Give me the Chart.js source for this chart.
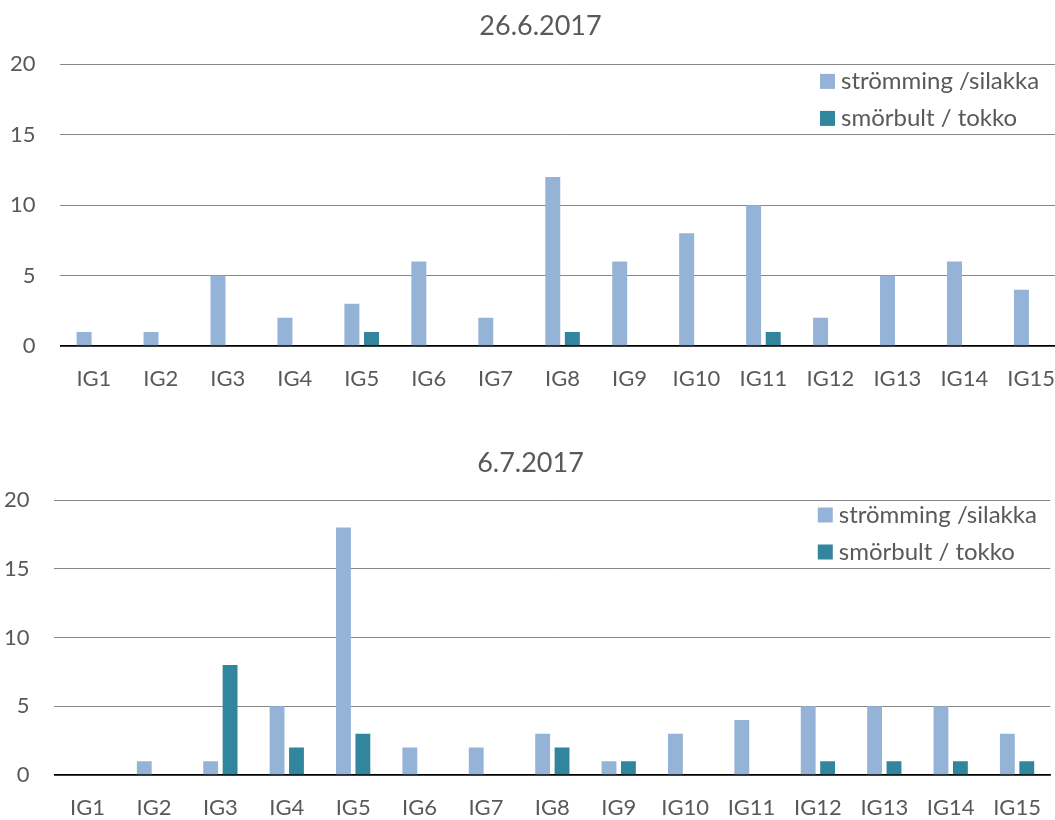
<!DOCTYPE html>
<html>
<head>
<meta charset="utf-8">
<title>strömming / smörbult</title>
<script src="https://cdn.jsdelivr.net/npm/chart.js@4.4.1/dist/chart.umd.min.js"></script>
<style>
  html, body { margin: 0; padding: 0; background: #fff; overflow: hidden; width: 1055px; height: 820px; }
  .wrap { position: absolute; left: 0; }
  #top { top: 0; width: 1081px; height: 420px; }
  #bottom { top: 420px; width: 1061px; height: 420px; }
</style>
</head>
<body>
<div class="wrap" id="top"><canvas id="chart1" width="1081" height="420"></canvas></div>
<div class="wrap" id="bottom"><canvas id="chart2" width="1061" height="420"></canvas></div>

<script>
// data
const categories = ["IG1", "IG2", "IG3", "IG4", "IG5", "IG6", "IG7", "IG8", "IG9", "IG10", "IG11", "IG12", "IG13", "IG14", "IG15"];
const seriesNames = ["strömming /silakka", "smörbult / tokko"];
const titles = ["26.6.2017", "6.7.2017"];

const stromming1 = [1, 1, 5, 2, 3, 6, 2, 12, 6, 8, 10, 2, 5, 6, 4];
const smorbult1 = [0, 0, 0, 0, 1, 0, 0, 1, 0, 0, 1, 0, 0, 0, 0];
const stromming2 = [0, 1, 1, 5, 18, 2, 2, 3, 1, 3, 4, 5, 5, 5, 3];
const smorbult2 = [0, 0, 8, 2, 3, 0, 0, 2, 1, 0, 0, 1, 1, 1, 1];

const yTicks = [0, 5, 10, 15, 20];

const FONT = "Lato";
const TEXT = "#595959";
const colors = ["#95B3D7", "#31859C"];

// title centred on the whole (uncropped) chart + legend inside the plot, top right
const rubrikOchLegend = {
  id: "rubrikOchLegend",
  afterDraw(chart, args, opts) {
    const { ctx, chartArea } = chart;
    ctx.save();
    ctx.textBaseline = "middle";

    ctx.font = `27px ${FONT}`;
    ctx.textAlign = "center";
    ctx.fillStyle = TEXT;
    ctx.fillText(opts.title, opts.titleX, opts.titleY);

    ctx.font = `24px ${FONT}`;
    ctx.textAlign = "left";
    chart.data.datasets.forEach((ds, i) => {
      const x = chartArea.right + opts.dx;
      const y = chartArea.top + opts.dy + i * 37;
      ctx.fillStyle = ds.backgroundColor;
      ctx.fillRect(x, y - 7.5, 15, 15);
      ctx.fillStyle = TEXT;
      ctx.fillText(ds.label, x + 21, y);
    });
    ctx.restore();
  }
};

function lagaDiagram(id, titel, stromming, smorbult, lay) {
  const ctx = document.getElementById(id).getContext("2d");
  return new Chart(ctx, {
    type: "bar",
    data: {
      labels: categories,
      datasets: [
        { label: seriesNames[0], data: stromming, backgroundColor: colors[0] },
        { label: seriesNames[1], data: smorbult, backgroundColor: colors[1] }
      ]
    },
    plugins: [rubrikOchLegend],
    options: {
      responsive: false,
      animation: false,
      categoryPercentage: 0.585,
      barPercentage: 0.765,
      layout: { padding: { left: 0, right: lay.right, top: lay.top, bottom: 0 } },
      plugins: {
        legend: { display: false },
        tooltip: { enabled: false },
        title: { display: false },
        rubrikOchLegend: {
          title: titel, titleX: lay.titleX, titleY: lay.titleY,
          dx: lay.legendDx, dy: lay.legendDy
        }
      },
      scales: {
        x: {
          grid: { display: false, drawTicks: false },
          border: { display: true, color: "#000", width: 1.5 },
          ticks: {
            color: TEXT,
            font: { family: FONT, size: 22 },
            padding: 20,
            maxRotation: 0,
            autoSkip: false
          },
          afterFit: (s) => { s.height = lay.xHeight; }
        },
        y: {
          min: yTicks[0],
          max: yTicks[yTicks.length - 1],
          afterBuildTicks: (s) => { s.ticks = yTicks.map(v => ({ value: v })); },
          grid: {
            drawTicks: false,
            color: (c) => c.tick && c.tick.value === 0 ? "#000" : "#868686",
            lineWidth: (c) => c.tick && c.tick.value === 0 ? 1.5 : 1
          },
          border: { display: false },
          ticks: {
            color: TEXT,
            font: { family: FONT, size: 22 },
            padding: 25
          },
          afterFit: (s) => { s.width = lay.yWidth; }
        }
      }
    }
  });
}

lagaDiagram("chart1", titles[0], stromming1, smorbult1, {
  right: 16.3, top: 64.4, xHeight: 74, yWidth: 60.4,
  titleX: 540.5, titleY: 26,
  legendDx: -244.7, legendDy: 17
});

lagaDiagram("chart2", titles[1], stromming2, smorbult2, {
  right: 1.5, top: 80, xHeight: 65, yWidth: 54.4,
  titleX: 530.5, titleY: 43,
  legendDx: -232.5, legendDy: 15
});
</script>
</body>
</html>
